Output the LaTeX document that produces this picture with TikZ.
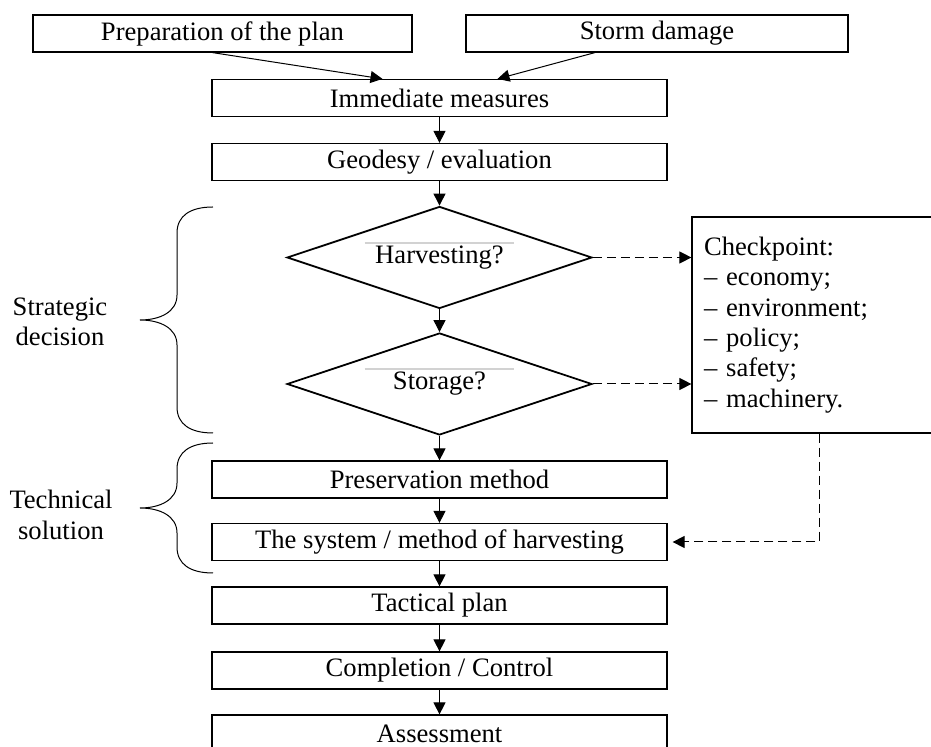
\documentclass[tikz,border=0pt]{standalone}
\usepackage{fontspec}
\setmainfont{Liberation Serif}
\usetikzlibrary{shapes.geometric,arrows.meta}
\begin{document}
\begin{tikzpicture}[x=0.5pt,y=-0.5pt,
    font=\fontsize{13.3}{15.2}\selectfont,
    box/.style={draw,line width=0.6pt,inner sep=0pt,minimum width=227.5pt,minimum height=18.5pt},
    topbox/.style={draw,line width=0.6pt,inner sep=0pt,minimum height=18.5pt},
    ask/.style={draw,diamond,line width=0.9pt,inner sep=0pt,shape aspect=3,minimum width=152.5pt,minimum height=51pt},
    go/.style={-{Triangle[length=6pt,width=6pt]},line width=0.5pt},
    goback/.style={go,dash pattern=on 4.5pt off 2.5pt}]
            \useasboundingbox (0,0) rectangle (931,747);
            \node[topbox,minimum width=189.5pt] (prep) at (222.5,33.5) {Preparation of the plan};
            \node[topbox,minimum width=191pt] (storm) at (657,33.5) {Storm damage};
            \node[box] (imm) at (439.5,98) {Immediate measures};
            \node[box] (geo) at (439.5,162) {Geodesy / evaluation};

            \node[ask] (harv) at (439.5,257.5) {Harvesting?};
            \node[ask] (stor) at (439.5,384) {Storage?};
            \draw[gray!35,line width=0.8pt] ([shift={(-75,-14.5)}]harv.center) -- ([shift={(74,-14.5)}]harv.center);
            \draw[gray!35,line width=0.8pt] ([shift={(-75,-15)}]stor.center) -- ([shift={(74,-15)}]stor.center);

            \node[draw,line width=0.6pt,align=left,text width=120pt,inner xsep=6pt,inner ysep=0pt,minimum height=108pt] (check) at (824,325)
                {Checkpoint:\\ -- economy;\\ -- environment;\\ -- policy;\\ -- safety;\\ -- machinery.};

            \node[box] (pres) at (439.5,479.5) {Preservation method};
            \node[box] (sys) at (439.5,542) {The system / method of harvesting};
            \node[box] (tac) at (439.5,605.5) {Tactical plan};
            \node[box] (comp) at (439.5,670.5) {Completion / Control};
            \node[box] (assess) at (439.5,733.5) {Assessment};

            \node[align=center] (strat) at (60,322) {Strategic\\decision};
            \node[align=center] (tech) at (61,515) {Technical\\solution};

            \draw[go] ([xshift=-5pt]prep.south) -- ([xshift=-28.5pt]imm.north);
            \draw[go] ([xshift=-31pt]storm.south) -- ([xshift=29pt]imm.north);
            \draw[go] (imm) -- (geo);
            \draw[go] (geo) -- (harv);
            \draw[go] (harv) -- (stor);
            \draw[go] (stor) -- (pres);
            \draw[go] (pres) -- (sys);
            \draw[go] (sys) -- (tac);
            \draw[go] (tac) -- (comp);
            \draw[go] (comp) -- (assess);

            \draw[goback] (harv.east) -- (check.west |- harv.east);
            \draw[goback] (stor.east) -- (check.west |- stor.east);
            \draw[goback] ([xshift=-2.5pt]check.south) |- ([xshift=2.5pt]sys.east);

            \draw[line width=0.5pt] (213,207) .. controls (190,207) and (177,216) .. (177,233) -- (177,295)
                .. controls (177,312) and (160,320) .. (140,320) .. controls (160,320) and (177,328) .. (177,345)
                -- (177,407) .. controls (177,424) and (190,433) .. (213,433);
            \draw[line width=0.5pt] (213,443) .. controls (190,443) and (177,452) .. (177,469) -- (177,483)
                .. controls (177,500) and (160,508) .. (140,508) .. controls (160,508) and (177,516) .. (177,533)
                -- (177,547) .. controls (177,564) and (190,573) .. (213,573);
        \end{tikzpicture}
\end{document}
